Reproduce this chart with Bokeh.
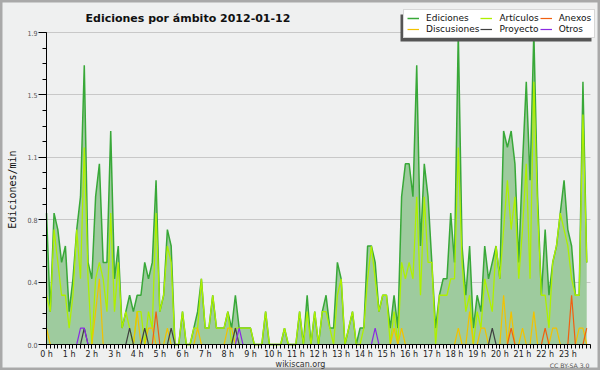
from bokeh.plotting import figure
from bokeh.models import (Range1d, FixedTicker, Legend, LegendItem, Label,
                          ColumnDataSource, BoxAnnotation)
from bokeh.embed import file_html
from bokeh.resources import INLINE

# ---------------- data (edits per minute, 10-minute bins) ----------------
minutes = list(range(0, 1440, 10))

ediciones = [
    0.8, 0.2, 0.8, 0.7, 0.5, 0.6, 0.2, 0.4, 0.7, 0.9,
    1.7, 0.5, 0.4, 0.9, 1.1, 0.5, 0.5, 1.3, 0.4, 0.6,
    0.1, 0.2, 0.3, 0.2, 0.3, 0.3, 0.5, 0.4, 0.5, 1.0,
    0.2, 0.3, 0.7, 0.6, 0.0, 0.0, 0.2, 0.0, 0.0, 0.1,
    0.2, 0.4, 0.1, 0.1, 0.3, 0.1, 0.1, 0.1, 0.2, 0.1,
    0.3, 0.1, 0.1, 0.1, 0.1, 0.0, 0.0, 0.0, 0.2, 0.0,
    0.0, 0.0, 0.0, 0.1, 0.0, 0.0, 0.0, 0.2, 0.0, 0.3,
    0.0, 0.2, 0.0, 0.2, 0.3, 0.1, 0.1, 0.5, 0.4, 0.0,
    0.1, 0.2, 0.0, 0.1, 0.1, 0.6, 0.6, 0.5, 0.2, 0.3,
    0.3, 0.1, 0.3, 0.1, 0.9, 1.1, 1.1, 0.9, 1.7, 0.6,
    1.1, 0.9, 0.5, 0.1, 0.3, 0.4, 0.4, 0.8, 0.5, 1.9,
    0.6, 0.3, 0.6, 0.1, 0.3, 0.2, 0.6, 0.4, 0.5, 0.6,
    0.4, 1.3, 1.2, 1.3, 1.1, 0.5, 1.1, 1.6, 1.0, 1.9,
    0.9, 0.3, 0.7, 0.3, 0.5, 0.6, 0.8, 1.0, 0.7, 0.6,
    0.3, 0.3, 1.6, 0.5,
]

articulos = [
    0.3, 0.2, 0.7, 0.5, 0.3, 0.3, 0.1, 0.3, 0.7, 0.4,
    1.2, 0.4, 0.0, 0.4, 0.5, 0.4, 0.2, 0.8, 0.2, 0.5,
    0.1, 0.2, 0.1, 0.0, 0.2, 0.2, 0.0, 0.2, 0.1, 0.8,
    0.2, 0.3, 0.6, 0.5, 0.0, 0.0, 0.2, 0.0, 0.0, 0.1,
    0.1, 0.4, 0.1, 0.1, 0.3, 0.1, 0.1, 0.1, 0.2, 0.0,
    0.1, 0.1, 0.1, 0.1, 0.1, 0.0, 0.0, 0.0, 0.2, 0.0,
    0.0, 0.0, 0.0, 0.1, 0.0, 0.0, 0.0, 0.2, 0.0, 0.2,
    0.0, 0.2, 0.0, 0.2, 0.2, 0.1, 0.0, 0.3, 0.4, 0.0,
    0.1, 0.2, 0.0, 0.0, 0.1, 0.4, 0.6, 0.4, 0.2, 0.3,
    0.3, 0.0, 0.2, 0.0, 0.5, 0.4, 0.5, 0.4, 0.9, 0.3,
    0.9, 0.5, 0.5, 0.0, 0.3, 0.3, 0.3, 0.4, 0.4, 1.2,
    0.5, 0.2, 0.3, 0.0, 0.2, 0.1, 0.4, 0.3, 0.2, 0.6,
    0.4, 0.7, 1.0, 0.7, 0.9, 0.4, 0.7, 1.1, 0.4, 1.6,
    0.8, 0.3, 0.3, 0.1, 0.5, 0.6, 0.8, 0.7, 0.6, 0.4,
    0.3, 0.3, 1.4, 0.5,
]

# one row = 2 hours (12 bins)
discusiones = [
    0.1, 0, 0, 0, 0, 0, 0, 0, 0, 0, 0, 0,
    0, 0.2, 0.4, 0, 0, 0, 0, 0, 0, 0, 0, 0,
    0.2, 0, 0, 0.1, 0.1, 0, 0, 0, 0.1, 0, 0, 0,
    0, 0, 0, 0, 0.1, 0, 0, 0, 0, 0, 0, 0,
    0.1, 0.1, 0, 0, 0, 0, 0, 0, 0, 0, 0, 0,
    0, 0, 0, 0, 0, 0, 0, 0, 0, 0, 0, 0,
    0, 0, 0, 0, 0, 0, 0, 0, 0, 0, 0, 0,
    0, 0, 0, 0, 0, 0, 0, 0, 0.1, 0, 0.1, 0,
    0, 0, 0, 0, 0, 0, 0, 0, 0, 0, 0, 0,
    0, 0.1, 0, 0, 0.2, 0, 0, 0.1, 0.1, 0, 0, 0,
    0, 0.3, 0, 0.2, 0, 0, 0.1, 0, 0, 0.2, 0, 0,
    0, 0, 0.1, 0.1, 0, 0, 0, 0, 0, 0.1, 0.1, 0,
]

anexos = [
    0, 0, 0, 0, 0, 0, 0, 0, 0, 0, 0, 0,
    0, 0, 0, 0, 0, 0, 0, 0, 0, 0, 0, 0,
    0, 0, 0, 0, 0, 0.2, 0, 0, 0, 0, 0, 0,
    0, 0, 0, 0, 0, 0, 0, 0, 0, 0, 0, 0,
    0, 0, 0, 0, 0, 0, 0, 0, 0, 0, 0, 0,
    0, 0, 0, 0, 0, 0, 0, 0, 0, 0, 0, 0,
    0, 0, 0, 0, 0, 0, 0, 0, 0, 0, 0, 0,
    0, 0, 0, 0, 0, 0, 0, 0, 0, 0, 0, 0,
    0, 0, 0, 0, 0, 0, 0, 0, 0, 0, 0, 0,
    0, 0, 0, 0, 0, 0, 0, 0, 0, 0, 0, 0,
    0, 0, 0, 0.1, 0, 0, 0, 0, 0, 0, 0, 0,
    0.1, 0, 0, 0, 0, 0, 0, 0.3, 0, 0, 0, 0.1,
]

proyecto = [
    0, 0, 0, 0, 0, 0, 0, 0, 0, 0, 0.1, 0,
    0, 0, 0, 0, 0, 0, 0, 0, 0, 0, 0.1, 0,
    0, 0, 0.1, 0, 0, 0, 0, 0, 0, 0.1, 0, 0,
    0, 0, 0, 0, 0, 0, 0, 0, 0, 0, 0, 0,
    0, 0, 0.1, 0, 0, 0, 0, 0, 0, 0, 0, 0,
    0, 0, 0, 0, 0, 0, 0, 0, 0, 0, 0, 0,
    0, 0, 0, 0, 0, 0, 0, 0, 0, 0, 0, 0,
    0, 0, 0, 0, 0, 0, 0, 0, 0, 0, 0, 0,
    0, 0, 0, 0, 0, 0, 0, 0, 0, 0, 0, 0,
    0, 0, 0, 0, 0, 0, 0, 0, 0, 0, 0.1, 0,
    0, 0, 0, 0, 0, 0, 0, 0, 0, 0, 0, 0,
    0, 0, 0, 0, 0, 0, 0, 0, 0, 0, 0, 0,
]

otros = [
    0, 0, 0, 0, 0, 0, 0, 0, 0, 0.1, 0.1, 0,
    0, 0, 0, 0, 0, 0, 0, 0, 0, 0, 0, 0,
    0, 0, 0, 0, 0, 0, 0, 0, 0, 0, 0, 0,
    0, 0, 0, 0, 0, 0, 0, 0, 0, 0, 0, 0,
    0, 0, 0, 0.1, 0, 0, 0, 0, 0, 0, 0, 0,
    0, 0, 0, 0, 0, 0, 0, 0, 0, 0, 0, 0,
    0, 0, 0, 0, 0, 0, 0, 0, 0, 0, 0, 0,
    0, 0, 0, 0.1, 0, 0, 0, 0, 0, 0, 0, 0,
    0, 0, 0, 0, 0, 0, 0, 0, 0, 0, 0, 0,
    0, 0, 0, 0, 0, 0, 0, 0, 0, 0, 0, 0,
    0, 0, 0, 0, 0, 0, 0, 0, 0, 0, 0, 0,
    0, 0, 0, 0, 0, 0, 0, 0, 0, 0, 0, 0,
]

hour_ticks = list(range(24))
hour_labels = ["0 h", "1 h", "2 h", "3 h", "4 h", "5 h", "6 h", "7 h",
               "8 h", "9 h", "10 h", "11 h", "12 h", "13 h", "14 h", "15 h",
               "16 h", "17 h", "18 h", "19 h", "20 h", "21 h", "22 h", "23 h"]

ytick_values = [0.0, 0.38, 0.76, 1.14, 1.52, 1.9]
ytick_labels = ["0.0", "0.4", "0.8", "1.1", "1.5", "1.9"]
yminor_values = [i * 0.095 for i in range(21)]

title_text = "Ediciones por ámbito  2012-01-12"
ylabel_text = "Ediciones/min"
site_text = "wikiscan.org"
license_text = "CC BY-SA 3.0"

# ---------------- layout (pixels) ----------------
W, H = 600, 370
PL, PR, PT, PB = 46, 590, 32, 344        # data area of the chart
XMAX, YMAX = 24.0, 1.9
xs = XMAX / (PR - PL)
ys = YMAX / (PB - PT)
x_range = Range1d(-PL * xs, XMAX + (W - PR) * xs)
y_range = Range1d(-(H - PB) * ys, YMAX + PT * ys)

hours = [m / 60 for m in minutes]
minor_hours = [m / 60 for m in range(0, 1450, 10)]
src = ColumnDataSource(dict(x=hours, ed=ediciones, art=articulos, dis=discusiones,
                            anx=anexos, pro=proyecto, otr=otros))

p = figure(width=W, height=H, x_range=x_range, y_range=y_range,
           output_backend="svg", toolbar_location=None,
           background_fill_color="#eff0f0", border_fill_color="#eff0f0")
p.min_border = 0
p.title.visible = False
p.outline_line_color = "#a9a9a9"
p.outline_line_width = 4

yt = FixedTicker(ticks=ytick_values, minor_ticks=yminor_values)
grid = p.ygrid[0]
grid.ticker = yt
grid.grid_line_color = "#c8c8c8"
grid.grid_line_width = 1
if "cross_bounds" in grid.properties():
    grid.cross_bounds = (0, XMAX)
    grid.bounds = (0, YMAX)
else:
    grid.visible = False
    p.segment(x0=0, x1=XMAX, y0=ytick_values, y1=ytick_values,
              line_color="#c8c8c8", line_width=1)
p.xgrid.visible = False

p.varea(x="x", y1=0, y2="ed", source=src, fill_color="#9ecb9e", fill_alpha=1)
r_ed = p.line("x", "ed", source=src, line_color="#38a838", line_width=1.5)
r_art = p.line("x", "art", source=src, line_color="#aef000", line_width=1.3)
r_dis = p.line("x", "dis", source=src, line_color="#f2c200", line_width=1.2)
r_anx = p.line("x", "anx", source=src, line_color="#f06010", line_width=1.2)
r_pro = p.line("x", "pro", source=src, line_color="#404040", line_width=1.2)
r_otr = p.line("x", "otr", source=src, line_color="#8a2be2", line_width=1.2)

# axes (drawn at data 0, taking no side space)
xt = FixedTicker(ticks=hour_ticks, minor_ticks=minor_hours)
ax = p.xaxis[0]
ax.fixed_location = 0
ax.bounds = (0, XMAX)
ax.ticker = xt
ax.major_label_overrides = dict(zip(hour_ticks, hour_labels))
ax.major_tick_out = 4
ax.major_tick_in = 0
ax.minor_tick_out = 4
ax.minor_tick_in = 0
ax.major_label_standoff = 1
ax.major_label_text_font = "DejaVu Sans"
ax.major_label_text_font_size = "8px"
ax.major_label_text_color = "#222222"
ax.axis_line_color = "black"
ax.major_tick_line_color = "black"
ax.minor_tick_line_color = "black"

ay = p.yaxis[0]
ay.fixed_location = 0
ay.bounds = (0, YMAX)
ay.ticker = yt
ay.major_label_overrides = dict(zip(ytick_values, ytick_labels))
ay.major_tick_out = 8
ay.major_tick_in = 0
ay.minor_tick_out = 4
ay.minor_tick_in = 0
ay.major_label_standoff = 1
ay.major_label_text_font = "DejaVu Sans Condensed"
ay.major_label_text_font_size = "7px"
ay.major_label_text_color = "#555555"
ay.axis_line_color = "black"
ay.major_tick_line_color = "black"
ay.minor_tick_line_color = "black"

# legend with shadow
LG_L, LG_T, LG_B = 403, 11, 38
shadow = BoxAnnotation(left=LG_L - 3, right=LG_L + 188, bottom=H - LG_B - 3, top=H - LG_T - 3,
                       left_units="screen", right_units="screen",
                       bottom_units="screen", top_units="screen",
                       fill_color="#555555", fill_alpha=1, line_color=None)
p.add_layout(shadow)

legend = Legend(items=[
    LegendItem(label="Ediciones", renderers=[r_ed]),
    LegendItem(label="Discusiones", renderers=[r_dis]),
    LegendItem(label="Artículos", renderers=[r_art]),
    LegendItem(label="Proyecto", renderers=[r_pro]),
    LegendItem(label="Anexos", renderers=[r_anx]),
    LegendItem(label="Otros", renderers=[r_otr]),
], location=(LG_L, H - LG_B), orientation="vertical", nrows=2)
legend.label_text_font = "DejaVu Sans"
legend.label_text_font_size = "9px"
legend.label_text_color = "#111111"
legend.label_height = 10
legend.glyph_height = 10
legend.glyph_width = 12
legend.label_standoff = 7
legend.spacing = 1
legend.padding = 3
legend.margin = 0
legend.border_line_color = "#b0b0b0"
legend.border_line_width = 1
legend.background_fill_color = "white"
legend.background_fill_alpha = 1
p.add_layout(legend)

# texts
p.add_layout(Label(x=85, y=H - 18, x_units="screen", y_units="screen",
                   text=title_text, text_font="DejaVu Sans", text_font_style="bold",
                   text_font_size="11px", text_color="#111111",
                   text_baseline="alphabetic", text_align="left"))
p.add_layout(Label(x=12, y=H - 189, x_units="screen", y_units="screen",
                   text=ylabel_text, text_font="DejaVu Sans Mono",
                   text_font_size="10px", text_color="#111111", angle=1.5708,
                   text_baseline="middle", text_align="center"))
p.add_layout(Label(x=300, y=H - 364, x_units="screen", y_units="screen",
                   text=site_text, text_font="DejaVu Sans",
                   text_font_size="8px", text_color="#333333",
                   text_baseline="alphabetic", text_align="center"))
p.add_layout(Label(x=589, y=H - 365, x_units="screen", y_units="screen",
                   text=license_text, text_font="DejaVu Sans",
                   text_font_size="6.2px", text_color="#555555",
                   text_baseline="alphabetic", text_align="right"))

open("out.html", "w").write(file_html(p, INLINE))
